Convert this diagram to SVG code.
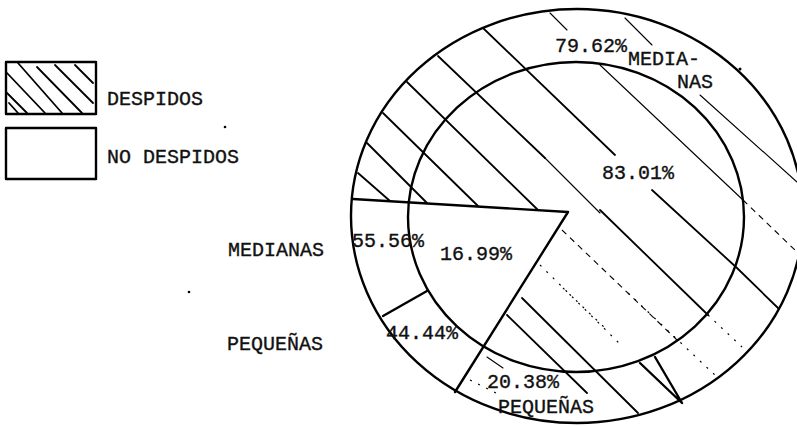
<svg xmlns="http://www.w3.org/2000/svg" width="797" height="427" viewBox="0 0 797 427">
<style>
  .bg { fill: #ffffff; }
  .edge { fill: none; stroke: #000; stroke-width: 2.4; stroke-linecap: round; stroke-linejoin: round; }
  .hatch { fill: none; stroke: #000; stroke-width: 1.8; stroke-linecap: round; }
  .thin { fill: none; stroke: #000; stroke-width: 1.1; stroke-linecap: round; }
  .dash { fill: none; stroke: #000; stroke-width: 1.1; stroke-dasharray: 6 5; }
  .dot { fill: none; stroke: #000; stroke-width: 1.2; stroke-dasharray: 2 7; }
  .t { font-family: "Liberation Mono", "DejaVu Sans Mono", monospace; font-size: 20px; fill: #111; stroke: #111; stroke-width: 0.35; }
</style>
<rect class="bg" x="0" y="0" width="797" height="427"/>

<g id="legend-despidos">
  <rect class="edge" x="6" y="62" width="90" height="52"/>
  <path class="hatch" d="M9,103 L18,113 M7,93 L27,113 M7,73 L45,113 M18,63 L62,113 M37,67 L82,113 M55,65 L93,103 M75,65 L93,83"/>
  <text class="t" x="107" y="105">DESPIDOS</text>
</g>

<g id="legend-no-despidos">
  <rect class="edge" x="6" y="128" width="90" height="51"/>
  <text class="t" x="107" y="163">NO DESPIDOS</text>
</g>

<g id="chart">
  <ellipse class="edge" cx="577" cy="216" rx="226" ry="207"/>
  <ellipse class="edge" cx="576" cy="217" rx="168" ry="155"/>
  <path class="edge" d="M353,199 L568,212 L455,392"/>
  <path class="edge" d="M383,316 L427,291"/>
  <path class="edge" d="M640,363 L682,403 M655,357 L682,403"/>
  <g id="hatching">
    <path class="hatch" d="M483,28 L615,155"/>
    <path class="hatch" d="M438,56 L545,158"/>
    <path class="thin" d="M545,158 L600,213"/>
    <path class="hatch" d="M407,82 L538,210"/>
    <path class="hatch" d="M383,113 L478,206"/>
    <path class="hatch" d="M367,143 L427,203"/>
    <path class="hatch" d="M358,173 L390,201"/>
    <path class="thin" d="M600,65 L743,200"/>
    <path class="dash" d="M743,200 L797,252"/>
    <path class="thin" d="M700,95 L797,182"/>
    <path class="thin" d="M550,13 L567,30 M625,18 L652,45"/>
    <path class="hatch" d="M652,190 L737,268 L778,308"/>
    <path class="hatch" d="M600,210 L708,315"/>
    <path class="dot" d="M708,315 L742,347"/>
    <path class="hatch" d="M522,298 L638,413"/>
    <path class="hatch" d="M507,315 L587,393"/>
    <path class="thin" d="M487,357 L503,368"/>
    <path class="dash" d="M562,230 L677,340"/>
    <path class="dot" d="M540,265 L623,347"/>
    <path class="dot" d="M563,288 L605,328"/>
    <path class="dot" d="M628,293 L717,377"/>
    <path class="dot" d="M470,380 L500,395"/>
  </g>
  <circle cx="740" cy="69" r="1.5" fill="#000"/>
</g>

<g id="labels">
  <text class="t" x="228" y="256">MEDIANAS</text>
  <text class="t" x="227" y="350">PEQUEÑAS</text>
  <text class="t" x="352" y="247">55.56%</text>
  <text class="t" x="440" y="260">16.99%</text>
  <text class="t" x="386" y="339">44.44%</text>
  <text class="t" x="487" y="388">20.38%</text>
  <text class="t" x="498" y="413">PEQUEÑAS</text>
  <text class="t" x="555" y="52">79.62%</text>
  <text class="t" x="628" y="65">MEDIA-</text>
  <text class="t" x="677" y="88">NAS</text>
  <text class="t" x="602" y="179">83.01%</text>
</g>

<g id="specks">
  <circle cx="225" cy="127" r="1.3" fill="#000"/>
  <circle cx="189" cy="292" r="1.3" fill="#000"/>
</g>
</svg>
